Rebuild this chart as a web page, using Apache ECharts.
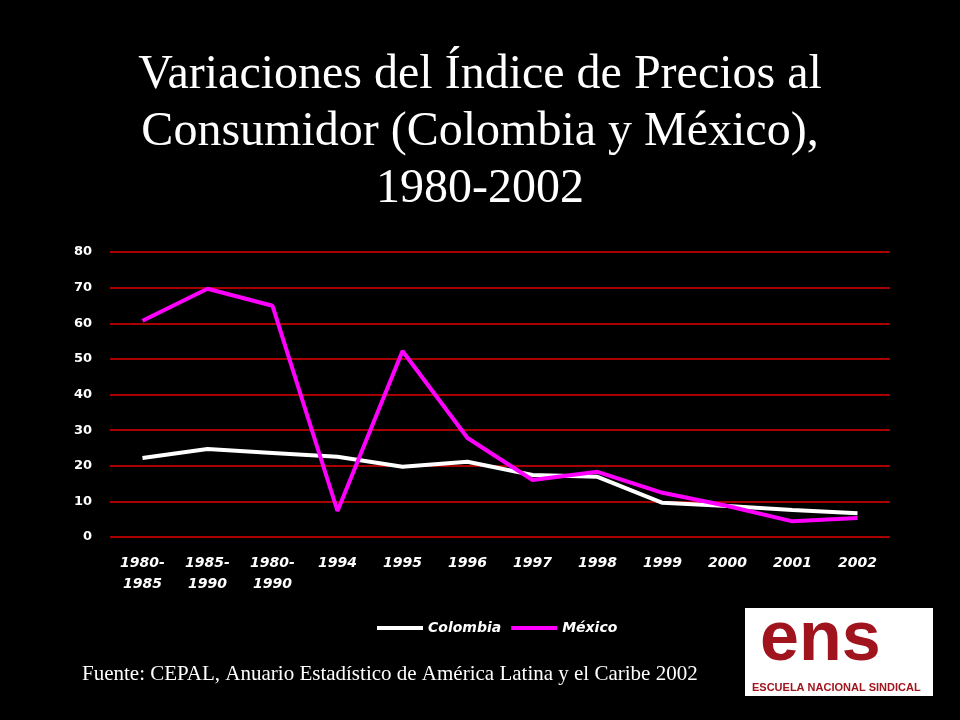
<!DOCTYPE html>
<html>
<head>
<meta charset="utf-8">
<script src="https://cdn.jsdelivr.net/npm/echarts@6/dist/echarts.min.js"></script>
<style>html,body{margin:0;padding:0;background:#000}#chart{width:960px;height:720px}</style>
</head>
<body>
<div id="chart"></div>
<script>
var categories = ['1980-\n1985', '1985-\n1990', '1980-\n1990', '1994', '1995', '1996', '1997', '1998', '1999', '2000', '2001', '2002'];
var colombia = [22.2, 24.7, 23.6, 22.5, 19.7, 21.1, 17.4, 16.9, 9.6, 8.7, 7.6, 6.7];
var mexico = [60.7, 69.7, 64.9, 7.3, 52.2, 27.8, 16.0, 18.3, 12.4, 8.7, 4.4, 5.3];

var chart = echarts.init(document.getElementById('chart'));
var lblFont = { color: '#fff', fontFamily: 'DejaVu Sans', fontWeight: 'bold', fontSize: 14, fontStyle: 'italic' };
chart.setOption({
	backgroundColor: '#000',
	animation: false,
	title: {
		text: 'Variaciones del Índice de Precios al\nConsumidor (Colombia y México),\n1980-2002',
		left: 'center', top: 42,
		textStyle: { color: '#fff', fontFamily: 'Liberation Serif', fontWeight: 'normal', fontSize: 48, lineHeight: 57 }
	},
	legend: {
		data: ['Colombia', 'México'],
		top: 616, left: 372, itemWidth: 46, itemGap: 10,
		icon: 'rect', itemHeight: 4,
		textStyle: lblFont
	},
	grid: { left: 110, right: 70, top: 252, bottom: 183 },
	xAxis: {
		type: 'category', data: categories, boundaryGap: true,
		axisLine: { show: false }, axisTick: { show: false },
		axisLabel: Object.assign({ interval: 0, margin: 16, lineHeight: 21 }, lblFont)
	},
	yAxis: {
		type: 'value', min: 0, max: 80, interval: 10,
		axisLine: { show: false }, axisTick: { show: false },
		splitLine: { lineStyle: { color: '#e00000', width: 1.5 } },
		axisLabel: Object.assign({ margin: 18 }, lblFont, { fontSize: 13, fontStyle: 'normal' })
	},
	series: [
		{ name: 'Colombia', type: 'line', data: colombia, symbol: 'none', lineStyle: { color: '#fff', width: 4 }, itemStyle: { color: '#fff' } },
		{ name: 'México', type: 'line', data: mexico, symbol: 'none', lineStyle: { color: '#ff00ff', width: 4 }, itemStyle: { color: '#ff00ff' } }
	],
	graphic: [
		{ type: 'text', left: 82, top: 664, style: { text: 'Fuente: CEPAL, Anuario Estadístico de América Latina y el Caribe 2002', fill: '#fff', font: '21px "Liberation Serif"' } },
		{ type: 'rect', left: 745, top: 608, shape: { width: 188, height: 88 }, style: { fill: '#fff' } },
		{ type: 'text', left: 760, top: 606, style: { text: 'ens', fill: '#a0141e', font: 'bold 70px "Liberation Sans"' } },
		{ type: 'text', left: 752, top: 682, style: { text: 'ESCUELA NACIONAL SINDICAL', fill: '#a0141e', font: 'bold 11px "Liberation Sans"' } }
	]
});
</script>
</body>
</html>
